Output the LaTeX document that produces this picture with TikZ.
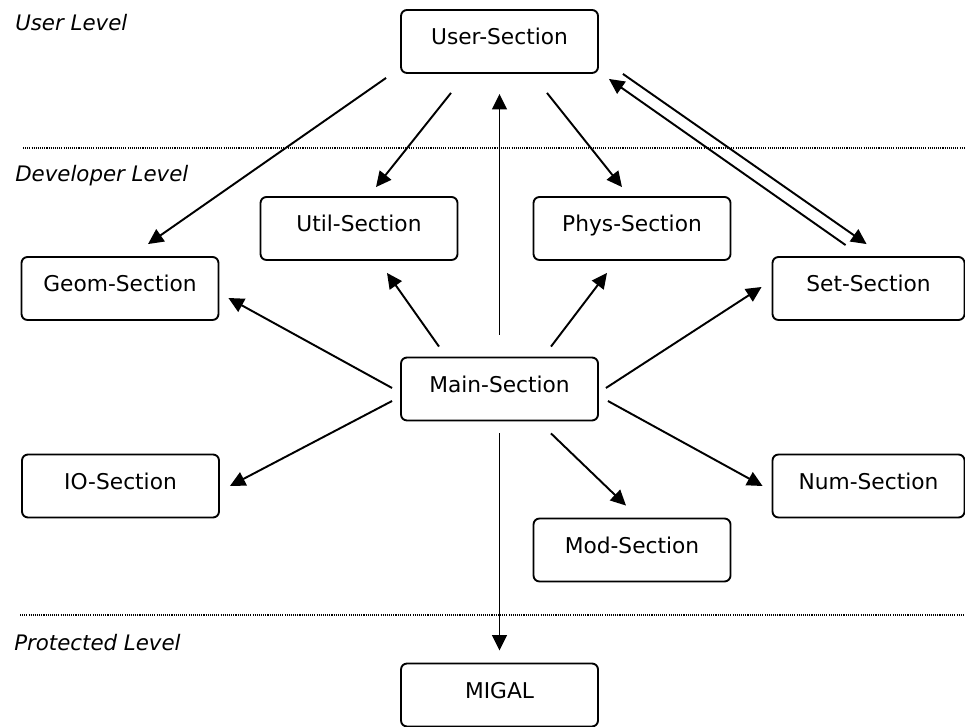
\documentclass[tikz,border=0pt]{standalone}
\usepackage{fontspec}
\setmainfont{DejaVu Sans}
\usetikzlibrary{arrows.meta}
\begin{document}
\begin{tikzpicture}[x=0.75pt,y=-0.75pt,
  box/.style={draw, line width=1.4pt, rounded corners=4.5pt, minimum width=147.75pt, minimum height=47.25pt, inner sep=0pt, text height=11pt, text depth=6pt, font=\fontsize{16.3}{19}\selectfont},
  narrowbox/.style={box, minimum width=144pt},
  arr/.style={line width=1.45pt, -{Triangle[length=11.5pt,width=11pt]}},
  lvl/.style={anchor=west, inner sep=0pt, font=\fontsize{16}{19}\selectfont\itshape},
  sep/.style={line width=1pt, dash pattern=on 0.8pt off 0.8pt}]
\useasboundingbox (0,0) rectangle (965,727);
% level labels
\node[lvl] (ulvl) at (15,23) {User Level};
\node[lvl] (dlvl) at (15,176) {Developer Level};
\node[lvl] (plvl) at (14,643) {Protected Level};
% separators
\coordinate (s1a) at (23,148); \coordinate (s1b) at (965,148);
\coordinate (s2a) at (20,615); \coordinate (s2b) at (965,615);
\draw[sep] (s1a) -- (s1b);
\draw[sep] (s2a) -- (s2b);
% boxes
\node[box] (user) at (499.5,41.5) {User-Section};
\node[box] (util) at (359,228.5) {Util-Section};
\node[box] (phys) at (632,228.5) {Phys-Section};
\node[box] (geom) at (120,288.5) {Geom-Section};
\node[narrowbox] (set) at (868.5,288.5) {Set-Section};
\node[box] (main) at (499.5,389) {Main-Section};
\node[box] (io) at (120.5,486) {IO-Section};
\node[narrowbox] (num) at (868.5,486) {Num-Section};
\node[box] (mod) at (632,550) {Mod-Section};
\node[box] (migal) at (499.5,695) {MIGAL};
% arrows from User-Section
\draw[arr] ([shift={(-14,4)}]user.south west) -- ([shift={(28,-12)}]geom.north);
\draw[arr] ([shift={(-48.5,19)}]user.south) -- ([shift={(17,-9)}]util.north);
\draw[arr] ([shift={(47.5,19)}]user.south) -- ([shift={(-10,-9)}]phys.north);
\draw[arr] ([shift={(24,0)}]user.south east) -- ([shift={(95,-12)}]set.north west);
\draw[arr] ([shift={(74,-11)}]set.north west) -- ([shift={(10,5)}]user.south east);
% arrows from Main-Section
\draw[arr] ([shift={(0,-22)}]main.north) -- ([shift={(0,20)}]user.south);
\draw[arr] ([shift={(-8,-1)}]main.west) -- ([shift={(9,9.5)}]geom.east);
\draw[arr] ([shift={(-60.5,-10)}]main.north) -- ([shift={(28,12)}]util.south);
\draw[arr] ([shift={(51.5,-10)}]main.north) -- ([shift={(-25,12)}]phys.south);
\draw[arr] ([shift={(7,-1)}]main.east) -- ([shift={(-10,-1.5)}]set.west);
\draw[arr] ([shift={(-8,12)}]main.west) -- ([shift={(10,0)}]io.east);
\draw[arr] ([shift={(9,12)}]main.east) -- ([shift={(-9,0)}]num.west);
\draw[arr] ([shift={(51.5,12)}]main.south) -- ([shift={(-6,-12)}]mod.north);
\draw[arr] ([shift={(0,12)}]main.south) -- ([shift={(0,-12)}]migal.north);
\end{tikzpicture}
\end{document}
